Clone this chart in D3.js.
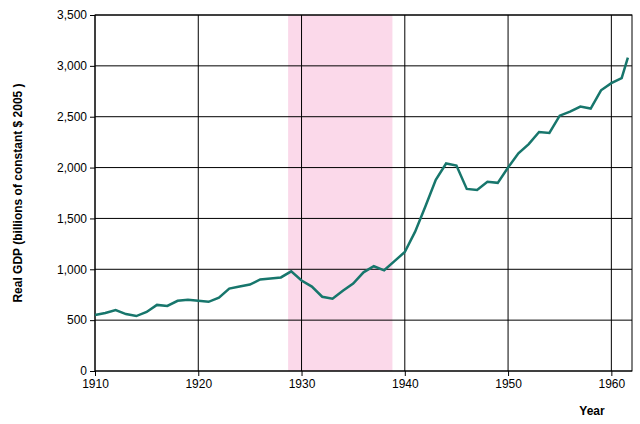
<!DOCTYPE html><html><head><script src="https://d3js.org/d3.v7.min.js"></script>
<style>body{margin:0;background:#fff}</style></head><body><svg width="640" height="424"></svg><script>
const years=[1910,1911,1912,1913,1914,1915,1916,1917,1918,1919,1920,1921,1922,1923,1924,1925,1926,1927,1928,1929,1930,1931,1932,1933,1934,1935,1936,1937,1938,1939,1940,1941,1942,1943,1944,1945,1946,1947,1948,1949,1950,1951,1952,1953,1954,1955,1956,1957,1958,1959,1960,1961,1961.6];
const gdp=[550,570,600,560,540,580,650,640,690,700,690,680,720,810,830,850,900,910,920,980,890,830,730,710,790,860,970,1030,990,1080,1170,1370,1620,1880,2040,2020,1790,1780,1860,1850,2000,2140,2230,2350,2340,2510,2550,2600,2580,2760,2830,2880,3080];
const xTicks=[1910,1920,1930,1940,1950,1960];
const yTicks=[0,500,1000,1500,2000,2500,3000,3500];
const recession=[1928.7,1938.8];
const svg=d3.select("svg");
const x=d3.scaleLinear().domain([1910,1962]).range([95,632]);
const y=d3.scaleLinear().domain([0,3500]).range([371,15]);
svg.append("rect").attr("x",x(recession[0])).attr("width",x(recession[1])-x(recession[0])).attr("y",y(3500)).attr("height",y(0)-y(3500)).attr("fill","#fbd9ea");
const g=svg.append("g").attr("stroke","#000").attr("stroke-width",1);
xTicks.forEach(t=>g.append("line").attr("x1",x(t)).attr("x2",x(t)).attr("y1",y(0)).attr("y2",y(3500)));
yTicks.forEach(t=>g.append("line").attr("x1",x(1910)).attr("x2",x(1962)).attr("y1",y(t)).attr("y2",y(t)));
svg.append("rect").attr("x",x(1910)).attr("y",y(3500)).attr("width",x(1962)-x(1910)).attr("height",y(0)-y(3500)).attr("fill","none").attr("stroke","#000");
const xa=svg.append("g").attr("transform","translate(0,371)").call(d3.axisBottom(x).tickValues(xTicks).tickFormat(d3.format("d")).tickSize(5));
const ya=svg.append("g").attr("transform","translate(95,0)").call(d3.axisLeft(y).tickValues(yTicks).tickFormat(d3.format(",")).tickSize(5));
[xa,ya].forEach(a=>{a.select(".domain").remove();a.selectAll("text").attr("font-family","Arial, Liberation Sans").attr("font-size",12).attr("fill","#000");});
svg.append("path").datum(years.map((d,i)=>[d,gdp[i]])).attr("d",d3.line().x(d=>x(d[0])).y(d=>y(d[1]))).attr("fill","none").attr("stroke","#17766c").attr("stroke-width",2.5);
svg.append("text").attr("x",592).attr("y",415).attr("text-anchor","middle").attr("font-family","Arial, Liberation Sans").attr("font-weight","bold").attr("font-size",12).text("Year");
svg.append("text").attr("transform","translate(22,193) rotate(-90)").attr("text-anchor","middle").attr("font-family","Arial, Liberation Sans").attr("font-weight","bold").attr("font-size",12).text("Real GDP (billions of constant $ 2005 )");
</script></body></html>
